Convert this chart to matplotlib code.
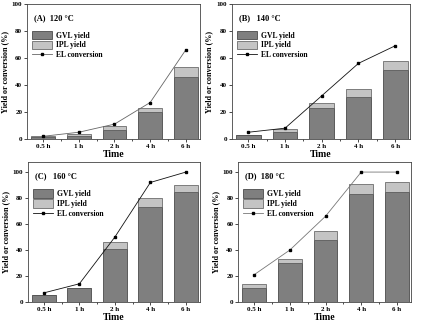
import matplotlib
matplotlib.use("Agg")
import matplotlib.pyplot as plt
import numpy as np

plt.rcParams['font.family'] = ['Liberation Serif', 'DejaVu Serif']
plt.rcParams['font.weight'] = 'bold'

times = ["0.5 h", "1 h", "2 h", "4 h", "6 h"]
panels = ["(A)  120 °C", "(B)   140 °C", "(C)   160 °C", "(D)  180 °C"]

# GVL yield, total (GVL + IPL) yield, EL conversion
gvl_a = [1.5, 2.5, 7, 20, 46]
tot_a = [2.5, 3.5, 9.5, 23, 53]
el_a = [2, 5, 11, 27, 66]

gvl_b = [3, 5, 23, 31, 51]
tot_b = [3, 7.5, 27, 37, 58]
el_b = [5, 8, 32, 56, 69]

gvl_c = [5, 11, 41, 73, 85]
tot_c = [5, 11, 46, 80, 90]
el_c = [7, 14, 50, 92, 100]

gvl_d = [11, 30, 48, 83, 85]
tot_d = [14, 33, 55, 91, 92]
el_d = [21, 40, 66, 100, 100]

fig = plt.figure(figsize=(4.23, 3.24), dpi=100)
boxes = [[0.064, 0.571, 0.409, 0.417],
         [0.548, 0.571, 0.421, 0.417],
         [0.066, 0.068, 0.407, 0.433],
         [0.563, 0.068, 0.409, 0.433]]
data = [(gvl_a, tot_a, el_a, 100, '#666666'),
        (gvl_b, tot_b, el_b, 100, '#111111'),
        (gvl_c, tot_c, el_c, 108, '#111111'),
        (gvl_d, tot_d, el_d, 108, '#777777')]

x = np.arange(len(times))
for box, (gvl, tot, el, ytop, lc), title in zip(boxes, data, panels):
    ax = fig.add_axes(box)
    ipl = np.array(tot) - np.array(gvl)
    b1 = ax.bar(x, gvl, width=0.67, color='#7f7f7f', edgecolor='#333333', lw=0.5, label='GVL yield')
    b2 = ax.bar(x, ipl, bottom=gvl, width=0.67, color='#c4c4c4', edgecolor='#555555', lw=0.5, label='IPL yield')
    l1, = ax.plot(x, el, color=lc, lw=0.6, marker='s', ms=2, mfc='black', mec='black', label='EL conversion')
    ax.set_xlim(-0.45, 4.4)
    ax.set_ylim(0, ytop)
    ax.set_xticks(x)
    ax.set_xticklabels(times)
    ax.set_xticks(x[:-1] + 0.5, minor=True)
    ax.set_yticks([0, 20, 40, 60, 80, 100])
    ax.tick_params(labelsize=5, length=2, width=0.5, pad=1.5)
    ax.tick_params(which='minor', length=1.5, width=0.5)
    for s in ax.spines.values():
        s.set_linewidth(0.6)
        s.set_color('#444444')
    ax.set_xlabel("Time", fontsize=7, fontweight='bold', labelpad=1)
    ax.set_ylabel("Yield or conversion (%)", fontsize=5.8, fontweight='bold', labelpad=2)
    ax.text(0.04, 0.925, title, transform=ax.transAxes, fontsize=6, fontweight='bold', va='top')
    ax.legend([b1, b2, l1], ['GVL yield', 'IPL yield', 'EL conversion'],
              loc='upper left', bbox_to_anchor=(0.0, 0.84), fontsize=5.5, frameon=False,
              handlelength=2.6, handleheight=1.3, labelspacing=0.15, borderaxespad=0.3,
              handletextpad=0.5)

fig.savefig("out.png", dpi=100)
